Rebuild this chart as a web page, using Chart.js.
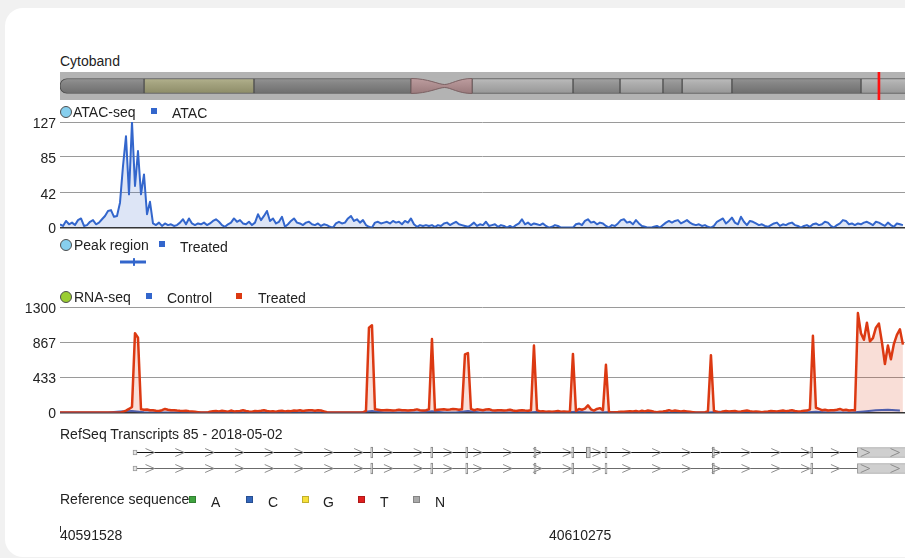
<!DOCTYPE html>
<html>
<head>
<meta charset="utf-8">
<title>Genome browser tracks</title>
<script src="https://cdn.jsdelivr.net/npm/chart.js@4.4.1/dist/chart.umd.min.js"></script>
<style>
  html, body { margin: 0; padding: 0; }
  body {
    position: relative;
    width: 905px;
    height: 558px;
    overflow: hidden;
    background: #f1f1f1;
    font-family: Arial, "Liberation Sans", sans-serif;
    font-size: 14px;
    color: #222;
  }
  #card { position: absolute; left: 5px; top: 8px; width: 980px; height: 549px; background: #fff; border-radius: 18px; }
  canvas { position: absolute; left: 0; }
  .t { position: absolute; white-space: nowrap; line-height: 15px; }
  .dot { position: absolute; width: 12px; height: 12px; border-radius: 50%; border: 1px solid #4d4d4d; box-sizing: border-box; }
  .sq { position: absolute; width: 6px; height: 6px; }
  .sq7 { position: absolute; width: 7px; height: 7px; box-sizing: border-box; border: 1px solid rgba(0,0,0,0.22); }
</style>
</head>
<body>
<div id="card"></div>

<canvas id="cyto" width="905" height="28" style="top:72px"></canvas>
<canvas id="atac" width="905" height="140" style="top:100px"></canvas>
<canvas id="peak" width="905" height="14" style="top:255px"></canvas>
<canvas id="rna" width="905" height="130" style="top:295px"></canvas>
<canvas id="tx" width="905" height="40" style="top:440px"></canvas>
<canvas id="ruler" width="905" height="56" style="top:500px"></canvas>

<div class="t" style="left:60px; top:54px">Cytoband</div>

<div class="dot" style="left:60px; top:106px; background:#87cfee"></div>
<div class="t" style="left:73px; top:105px">ATAC-seq</div>
<div class="sq" style="left:151px; top:108px; background:#3366cc"></div>
<div class="t" style="left:172px; top:106px">ATAC</div>

<div class="dot" style="left:60px; top:239px; background:#87cfee"></div>
<div class="t" style="left:74px; top:238px">Peak region</div>
<div class="sq" style="left:159px; top:241px; background:#3366cc"></div>
<div class="t" style="left:180px; top:240px">Treated</div>

<div class="dot" style="left:60px; top:291px; background:#9acd32"></div>
<div class="t" style="left:74px; top:290px">RNA-seq</div>
<div class="sq" style="left:146px; top:293px; background:#3366cc"></div>
<div class="t" style="left:167px; top:291px">Control</div>
<div class="sq" style="left:236px; top:293px; background:#dc3912"></div>
<div class="t" style="left:258px; top:291px">Treated</div>

<div class="t" style="left:60px; top:427px">RefSeq Transcripts 85 - 2018-05-02</div>

<div class="t" style="left:60px; top:492px">Reference sequence</div>
<div class="sq7" style="left:189px; top:496px; background:#3fa33f"></div>
<div class="t" style="left:211px; top:495px">A</div>
<div class="sq7" style="left:246px; top:496px; background:#3366bb"></div>
<div class="t" style="left:268px; top:495px">C</div>
<div class="sq7" style="left:302px; top:496px; background:#f7e03a"></div>
<div class="t" style="left:323px; top:495px">G</div>
<div class="sq7" style="left:358px; top:496px; background:#e01f1f"></div>
<div class="t" style="left:380px; top:495px">T</div>
<div class="sq7" style="left:413px; top:496px; background:#a9a9a9"></div>
<div class="t" style="left:435px; top:495px">N</div>

<script>
// genomic window shown by every track
const VIEW_START = 40591528;
const VIEW_END = 40623923;
const BIN_SIZE = 115;          // bp per signal bin
const CONTROL_BIN_SIZE = 460;  // control track is binned coarser
const RULER_TICKS = [40591528, 40610275];

// cytoband ideogram (Mb)
const CHR_AXIS_MAX = 41.9;
const BAND_STARTS = [0, 4.17, 9.62, 17.41, 20.43, 25.44, 27.77, 29.9, 30.85, 33.32, 39.72];
const BAND_ENDS = [4.17, 9.62, 17.41, 20.43, 25.44, 27.77, 29.9, 30.85, 33.32, 39.72, 44.0];
const BAND_STAINS = ["gpos75", "gvar", "gpos75", "acen", "gneg", "gpos50", "gneg", "gpos50", "gneg", "gpos75", "gneg"];
const STAIN_COLORS = { gpos75: "#7e7e7e", gpos50: "#8d8d8d", gneg: "#a7a7a7", gvar: "#9d9c78", acen: "#a9898b" };

// ATAC-seq coverage
const ATAC_TICKS = [0, 42, 85, 127];
const ATAC_VALUES = [
  4, 2, 8, 4, 6, 3, 9, 11, 2, 3, 7, 9, 4, 6, 10, 14, 20, 21, 13, 14,
  30, 74, 110, 40, 127, 50, 92, 40, 64, 16, 31, 5, 3, 6, 2, 5, 3, 4, 2, 3,
  6, 10, 4, 11, 5, 3, 5, 4, 6, 3, 5, 8, 10, 7, 3, 1, 4, 6, 11, 7,
  9, 5, 4, 7, 3, 6, 16, 9, 14, 20, 8, 11, 5, 7, 13, 1, 4, 8, 11, 6,
  5, 3, 6, 7, 4, 3, 5, 2, 4, 3, 1, 0, 5, 7, 5, 6, 11, 14, 8, 10,
  6, 9, 3, 1, 0, 6, 7, 5, 6, 7, 5, 8, 6, 7, 4, 8, 6, 11, 4, 1,
  3, 2, 3, 2, 3, 1, 3, 2, 5, 6, 3, 5, 7, 4, 3, 2, 1, 3, 6, 2,
  4, 3, 7, 2, 3, 4, 1, 3, 2, 0, 2, 0, 3, 5, 10, 4, 6, 3, 5, 4,
  3, 5, 2, 0, 1, 3, 2, 0, 0, 0, 0, 0, 4, 5, 3, 8, 10, 6, 7, 4,
  6, 5, 2, 0, 3, 2, 5, 9, 10, 6, 7, 4, 9, 5, 2, 1, 0, 0, 1, 2,
  0, 3, 6, 8, 6, 8, 9, 5, 7, 9, 6, 4, 3, 4, 2, 3, 1, 0, 2, 7,
  9, 11, 5, 8, 12, 6, 4, 13, 7, 3, 8, 7, 5, 3, 4, 2, 1, 3, 5, 6,
  2, 4, 3, 5, 6, 3, 2, 0, 2, 3, 1, 4, 5, 3, 4, 7, 6, 2, 0, 3,
  5, 9, 8, 4, 5, 3, 5, 4, 6, 7, 5, 3, 7, 6, 4, 2, 6, 3, 1, 5,
  4, 3
];

// called peak
const PEAK_START = 40593828;
const PEAK_END = 40594825;
const PEAK_SUMMIT = 40594365;

// RNA-seq coverage
const RNA_TICKS = [0, 433, 867, 1300];
const RNA_TREATED = [
  0, 0, 0, 0, 0, 0, 0, 0, 0, 0, 0, 0, 0, 0, 0, 0, 0, 0, 0, 0,
  0, 10, 25, 45, 70, 980, 925, 40, 35, 38, 30, 28, 22, 20, 30, 45, 35, 28, 30, 25,
  22, 20, 24, 18, 15, 10, 5, 0, 0, 0, 12, 18, 20, 15, 22, 18, 12, 25, 15, 18,
  20, 28, 20, 15, 12, 20, 18, 22, 30, 20, 15, 18, 12, 20, 22, 15, 20, 18, 25, 22,
  28, 20, 25, 30, 28, 22, 30, 25, 15, 5, 0, 0, 0, 0, 0, 0, 0, 0, 0, 0,
  0, 2, 20, 1050, 1080, 40, 35, 30, 28, 32, 30, 25, 28, 35, 30, 28, 25, 30, 32, 40,
  30, 25, 30, 40, 910, 30, 35, 38, 40, 35, 38, 45, 40, 35, 40, 720, 735, 45, 30, 40,
  35, 30, 38, 42, 30, 25, 28, 30, 25, 28, 35, 25, 20, 25, 30, 25, 22, 30, 830, 30,
  15, 18, 12, 15, 10, 15, 20, 12, 15, 10, 15, 725, 20, 45, 35, 50, 90, 40, 25, 45,
  55, 30, 590, 10, 0, 5, 8, 12, 10, 15, 18, 15, 20, 12, 22, 15, 25, 20, 10, 5,
  12, 15, 20, 30, 18, 25, 20, 15, 20, 15, 10, 5, 0, 0, 0, 5, 15, 710, 20, 10,
  0, 15, 20, 15, 18, 20, 12, 15, 20, 25, 18, 12, 15, 10, 5, 12, 15, 20, 18, 15,
  20, 25, 18, 22, 28, 20, 15, 18, 22, 25, 40, 950, 60, 45, 30, 35, 25, 30, 28, 35,
  45, 30, 35, 25, 30, 28, 1230, 980, 900, 1110, 880, 920, 1050, 1100, 870, 600, 830, 660, 850, 960,
  1030, 840
];
const RNA_CONTROL = [
  0, 0, 0, 0, 0, 15, 20, 5, 0, 0,
  0, 0, 0, 0, 0, 0, 0, 0, 0, 0,
  0, 0, 0, 0, 0, 0, 20, 0, 0, 0,
  0, 18, 0, 0, 20, 0, 0, 0, 0, 0,
  10, 0, 0, 12, 0, 0, 8, 0, 0, 0,
  0, 0, 0, 0, 0, 10, 0, 0, 0, 0,
  0, 0, 0, 12, 0, 0, 0, 15, 30, 35,
  25
];

// RefSeq transcripts
const TX_NAMES = ["transcript-1", "transcript-2"];
const TX_LINE_COLORS = ["#111111", "#6b6b6b"];
const TX_START = 40594327;
const TX_END = 40625000;
const UTR5 = [40594327, 40594480];
const UTR3 = [40622097, 40625000];
const EXON_STARTS = [40603440, 40605741, 40607083, 40609701, 40611147, 40612423, 40616537, 40620310];
const EXON_ENDS = [40603517, 40605818, 40607160, 40609778, 40611224, 40612500, 40616614, 40620387];
const TX1_EXTRA_EXON = [40611706, 40611860];

Chart.defaults.font.family = 'Arial, "Liberation Sans", sans-serif';
Chart.defaults.font.size = 14;
Chart.defaults.color = "#222";
Chart.defaults.animation = false;
Chart.defaults.plugins.legend.display = false;
Chart.defaults.plugins.tooltip.enabled = false;

const TRACK_HEIGHT = 110;

function toPoints(values, binSize) {
  return values.map((v, i) => ({ x: VIEW_START + i * binSize, y: v }));
}

function shade(hex, amt) {
  const n = parseInt(hex.slice(1), 16);
  const c = (v) => Math.max(0, Math.min(255, v + amt));
  return `rgb(${c(n >> 16)},${c((n >> 8) & 255)},${c(n & 255)})`;
}

// ---- Cytoband ----

function bandFill(ctx) {
  const stain = BAND_STAINS[ctx.dataIndex];
  if (stain === "acen") return "rgba(0,0,0,0)";
  const base = STAIN_COLORS[stain];
  const area = ctx.chart.chartArea;
  if (!area) return base;
  const cy = (area.top + area.bottom) / 2;
  const g = ctx.chart.ctx.createLinearGradient(0, cy - 7.5, 0, cy + 7.5);
  g.addColorStop(0, shade(base, 22));
  g.addColorStop(0.3, shade(base, 8));
  g.addColorStop(1, shade(base, -16));
  return g;
}

const stripBg = {
  id: "stripBg",
  beforeDatasetsDraw(chart) {
    const { ctx, chartArea: a } = chart;
    ctx.save();
    ctx.fillStyle = "#b3b3b3";
    ctx.fillRect(a.left, a.top, a.width, a.height);
    ctx.restore();
  },
};

const centromere = {
  id: "centromere",
  afterDatasetsDraw(chart) {
    const { ctx } = chart;
    const meta = chart.getDatasetMeta(1);
    BAND_STAINS.forEach((stain, i) => {
      if (stain !== "acen") return;
      const p = meta.data[i].getProps(["x", "y", "base", "height"], true);
      const l = Math.min(p.x, p.base);
      const r = Math.max(p.x, p.base);
      const h = p.height / 2;
      const y = p.y;
      const m = l + (r - l) * 0.55;
      const g = ctx.createLinearGradient(0, y - h, 0, y + h);
      g.addColorStop(0, shade(STAIN_COLORS.acen, 20));
      g.addColorStop(1, shade(STAIN_COLORS.acen, -15));
      ctx.save();
      ctx.beginPath();
      ctx.moveTo(l, y - h);
      ctx.bezierCurveTo(l + (m - l) * 0.5, y - h, m - 6, y - 1.5, m, y - 1.5);
      ctx.bezierCurveTo(m + 6, y - 1.5, r - (r - m) * 0.5, y - h, r, y - h);
      ctx.lineTo(r, y + h);
      ctx.bezierCurveTo(r - (r - m) * 0.5, y + h, m + 6, y + 1.5, m, y + 1.5);
      ctx.bezierCurveTo(m - 6, y + 1.5, l + (m - l) * 0.5, y + h, l, y + h);
      ctx.closePath();
      ctx.fillStyle = g;
      ctx.fill();
      ctx.strokeStyle = "#7a6062";
      ctx.lineWidth = 1;
      ctx.stroke();
      ctx.restore();
    });
  },
};

new Chart(document.getElementById("cyto"), {
  type: "bar",
  data: {
    labels: ["chr"],
    datasets: [
      {
        label: "view",
        data: [{ x: [VIEW_START / 1e6, VIEW_END / 1e6], y: "chr" }],
        backgroundColor: "#ff1010",
        barThickness: 28,
        borderWidth: 0,
        inflateAmount: 1,
      },
      {
        label: "bands",
        data: BAND_STARTS.map((s, i) => ({ x: [s, BAND_ENDS[i]], y: "chr" })),
        backgroundColor: bandFill,
        borderColor: (c) => (BAND_STAINS[c.dataIndex] === "acen" ? "rgba(0,0,0,0)" : "#4f4f4f"),
        borderWidth: 1,
        borderRadius: (c) =>
          c.dataIndex === 0 ? { topLeft: 7, bottomLeft: 7, topRight: 0, bottomRight: 0 } : 0,
        barThickness: 15,
      },
    ],
  },
  options: {
    indexAxis: "y",
    responsive: false,
    layout: { padding: { left: 60 } },
    datasets: { bar: { grouped: false, borderSkipped: false } },
    scales: {
      x: { type: "linear", min: 0, max: CHR_AXIS_MAX, display: false },
      y: { display: false },
    },
  },
  plugins: [stripBg, centromere],
});

// ---- Signal tracks ----

function signalChart(id, padTop, yMax, yTicks, datasets) {
  const canvas = document.getElementById(id);
  return new Chart(canvas, {
    type: "line",
    data: { datasets },
    options: {
      responsive: false,
      layout: { padding: { top: padTop, bottom: canvas.height - padTop - TRACK_HEIGHT, left: 0, right: 0 } },
      elements: { point: { radius: 0 }, line: { tension: 0, borderJoinStyle: "round" } },
      scales: {
        x: { type: "linear", display: false, min: VIEW_START, max: VIEW_END },
        y: {
          min: 0,
          max: yMax,
          afterBuildTicks: (s) => {
            s.ticks = yTicks.map((v) => ({ value: v }));
          },
          afterFit: (s) => {
            s.width = 60;
          },
          border: { display: false },
          grid: {
            drawTicks: false,
            color: (c) => (c.tick && c.tick.value === 0 ? "#333" : "#9a9a9a"),
            lineWidth: (c) => (c.tick && c.tick.value === 0 ? 1.5 : 1),
          },
          ticks: { padding: 4, labelOffset: 2, color: "#222", callback: (v) => String(v) },
        },
      },
    },
  });
}

signalChart("atac", 22, 127, ATAC_TICKS, [
  {
    label: "ATAC",
    data: toPoints(ATAC_VALUES, BIN_SIZE),
    borderColor: "#3366cc",
    borderWidth: 2,
    backgroundColor: "rgba(51,102,204,0.17)",
    fill: "origin",
  },
]);

signalChart("rna", 12, 1300, RNA_TICKS, [
  {
    label: "Treated",
    data: toPoints(RNA_TREATED, BIN_SIZE),
    borderColor: "#dc3912",
    borderWidth: 2.5,
    backgroundColor: "rgba(220,57,18,0.17)",
    fill: "origin",
  },
  {
    label: "Control",
    data: toPoints(RNA_CONTROL, CONTROL_BIN_SIZE),
    borderColor: "#3366cc",
    borderWidth: 2,
    backgroundColor: "rgba(51,102,204,0.15)",
    fill: "origin",
  },
]);

// ---- Peak region ----

new Chart(document.getElementById("peak"), {
  type: "scatter",
  data: {
    datasets: [
      {
        label: "summit",
        data: [{ x: PEAK_SUMMIT, y: -0.55 }, { x: PEAK_SUMMIT, y: 0.55 }],
        showLine: true,
        borderColor: "#3366cc",
        borderWidth: 2,
        pointRadius: 0,
      },
      {
        label: "peak",
        data: [{ x: PEAK_START, y: 0 }, { x: PEAK_END, y: 0 }],
        showLine: true,
        borderColor: "#3366cc",
        borderWidth: 3,
        pointRadius: 0,
      },
    ],
  },
  options: {
    responsive: false,
    layout: { padding: { left: 60 } },
    scales: {
      x: { type: "linear", min: VIEW_START, max: VIEW_END, display: false },
      y: { min: -1, max: 1, display: false },
    },
  },
});

// ---- Transcripts ----

const exonData = [];
TX_NAMES.forEach((name) => {
  EXON_STARTS.forEach((s, i) => exonData.push({ x: [s, EXON_ENDS[i]], y: name }));
});
exonData.push({ x: TX1_EXTRA_EXON, y: TX_NAMES[0] });

const chevrons = {
  id: "chevrons",
  afterDatasetsDraw(chart) {
    const { ctx, chartArea } = chart;
    const meta = chart.getDatasetMeta(3);
    ctx.save();
    ctx.strokeStyle = "#8c8c8c";
    ctx.lineWidth = 1;
    meta.data.forEach((bar) => {
      const p = bar.getProps(["x", "y", "base"], true);
      const left = Math.min(p.x, p.base);
      const right = Math.min(Math.max(p.x, p.base), chartArea.right);
      for (let cx = left + 17; cx < right; cx += 29.8) {
        ctx.beginPath();
        ctx.moveTo(cx - 4.5, p.y - 4);
        ctx.lineTo(cx + 4.5, p.y);
        ctx.lineTo(cx - 4.5, p.y + 4);
        ctx.stroke();
      }
    });
    ctx.restore();
  },
};

new Chart(document.getElementById("tx"), {
  type: "bar",
  data: {
    labels: TX_NAMES,
    datasets: [
      {
        label: "3' UTR",
        data: TX_NAMES.map((n) => ({ x: UTR3, y: n })),
        barThickness: 10,
        backgroundColor: "#cfcfcf",
        borderColor: "#9a9a9a",
        borderWidth: 1,
      },
      {
        label: "5' UTR",
        data: TX_NAMES.map((n) => ({ x: UTR5, y: n })),
        barThickness: 5,
        backgroundColor: "#e4e4e4",
        borderColor: "#9a9a9a",
        borderWidth: 1,
      },
      {
        label: "exons",
        data: exonData,
        barThickness: 11,
        backgroundColor: "#d0d0d0",
        borderColor: "#8a8a8a",
        borderWidth: 1,
      },
      {
        label: "introns",
        data: TX_NAMES.map((n) => ({ x: [TX_START, TX_END], y: n })),
        barThickness: 1,
        backgroundColor: TX_LINE_COLORS,
        borderWidth: 0,
        inflateAmount: 0,
      },
    ],
  },
  options: {
    indexAxis: "y",
    responsive: false,
    layout: { padding: { left: 60, top: 4.5, bottom: 3.5 } },
    datasets: { bar: { grouped: false, borderSkipped: false } },
    scales: {
      x: { type: "linear", min: VIEW_START, max: VIEW_END, display: false },
      y: { display: false },
    },
  },
  plugins: [chevrons],
});

// ---- Coordinate ruler ----

new Chart(document.getElementById("ruler"), {
  type: "line",
  data: { datasets: [] },
  options: {
    responsive: false,
    layout: { padding: { left: 60, top: 20 } },
    scales: {
      x: {
        type: "linear",
        position: "bottom",
        min: VIEW_START,
        max: VIEW_END,
        afterBuildTicks: (s) => {
          s.ticks = RULER_TICKS.map((v) => ({ value: v }));
        },
        afterFit: (s) => {
          s.height = 30;
        },
        border: { display: false },
        grid: {
          drawOnChartArea: false,
          drawTicks: true,
          tickLength: 6,
          color: (c) => (c.index === 0 ? "#333" : "rgba(0,0,0,0)"),
        },
        ticks: {
          align: "start",
          autoSkip: false,
          maxRotation: 0,
          padding: -4,
          color: "#222",
          callback: (v) => String(v),
        },
      },
      y: { display: false, min: 0, max: 1 },
    },
  },
});
</script>
</body>
</html>
